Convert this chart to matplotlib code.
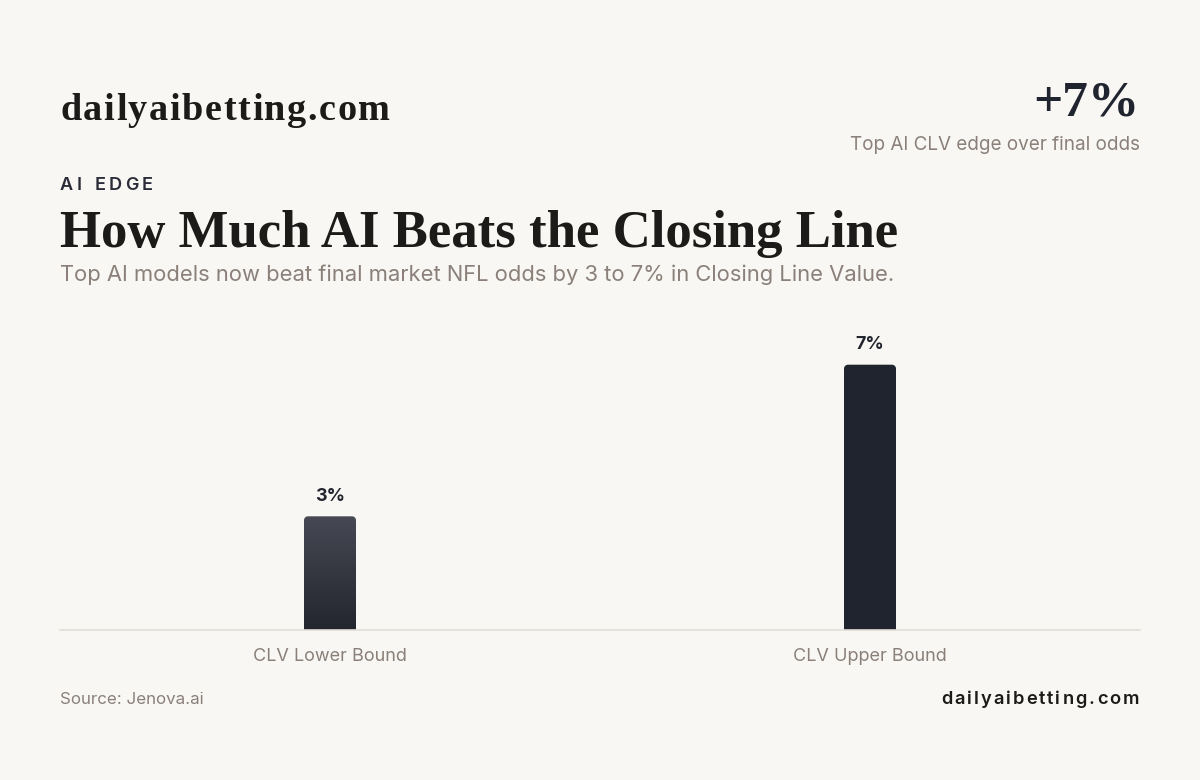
import matplotlib.pyplot as plt
import numpy as np
from matplotlib.patches import Polygon
from matplotlib.colors import LinearSegmentedColormap

# data
categories = ["CLV Lower Bound", "CLV Upper Bound"]
values = [3, 7]
value_labels = ["3%", "7%"]

BG = "#f8f7f3"
DARK = "#1c1b1a"
NAVY = "#20242f"
GRAY = "#8a8079"

fig = plt.figure(figsize=(12, 7.8), dpi=100, facecolor=BG)

# axes: x 60..1140 px, y 330..630 px
W, H = 1200, 780
PX_X = 540.0   # px per x unit
PX_Y = 37.9    # px per y unit
ax = fig.add_axes([60 / W, (H - 630) / H, 1080 / W, 300 / H])
ax.set_facecolor(BG)
for s in ["top", "right", "left"]:
    ax.spines[s].set_visible(False)
ax.spines["bottom"].set_color("#e2ded7")
ax.spines["bottom"].set_linewidth(1.2)
ax.set_yticks([])
x = np.arange(len(categories))
ax.set_xticks(x)
ax.set_xticklabels(categories, fontfamily="Inter", fontsize=13, color=GRAY)
ax.tick_params(axis="x", length=0, pad=13)


def top_rounded(x0, x1, top, r_px=4):
    rx, ry = r_px / PX_X, r_px / PX_Y
    pts = [(x0, 0), (x1, 0)]
    for a in np.linspace(0, np.pi / 2, 8):
        pts.append((x1 - rx + rx * np.cos(a), top - ry + ry * np.sin(a)))
    for a in np.linspace(np.pi / 2, np.pi, 8):
        pts.append((x0 + rx + rx * np.cos(a), top - ry + ry * np.sin(a)))
    return pts


bw = 52 / PX_X
cmap = LinearSegmentedColormap.from_list("g", ["#23262f", "#464953"])
for i, v in enumerate(values):
    poly = Polygon(top_rounded(x[i] - bw / 2, x[i] + bw / 2, v), closed=True,
                   linewidth=0, facecolor=NAVY if i == 1 else "none", zorder=2)
    ax.add_patch(poly)
    if i == 0:
        grad = np.linspace(0, 1, 100).reshape(-1, 1)
        im = ax.imshow(grad, cmap=cmap, origin="lower", aspect="auto",
                       extent=(x[i] - bw / 2, x[i] + bw / 2, 0, v), zorder=2)
        im.set_clip_path(poly)
    ax.text(x[i], v + 0.3, value_labels[i], ha="center", va="bottom",
            fontfamily="Inter", fontweight="bold", fontsize=13, color="#22252e")
ax.set_xlim(-0.5, 1.5)
ax.set_ylim(0, 300 / PX_Y)


def spaced(text, xpx, ypx, spacing, ha="left", **kw):
    # draw text char by char with extra letter spacing (pixel coords)
    r = fig.canvas.get_renderer()
    widths = []
    for ch in text:
        t = fig.text(0, 0, ch if ch != " " else "n", **kw)
        bb = t.get_window_extent(r)
        widths.append(bb.width * (0.6 if ch == " " else 1))
        t.remove()
    total = sum(widths) + spacing * (len(text) - 1)
    cx = xpx - total if ha == "right" else xpx
    for ch, w in zip(text, widths):
        if ch != " ":
            fig.text(cx / W, 1 - ypx / H, ch, ha="left", va="center", **kw)
        cx += w + spacing


serif = ["Liberation Serif", "DejaVu Serif"]

spaced("dailyaibetting.com", 60, 111, 1.6, fontfamily=serif,
       fontweight="bold", fontsize=27.5, color=DARK)
spaced("AI EDGE", 60, 186, 3.2, fontfamily="Inter", fontweight="semibold",
       fontsize=13, color="#2a2d38")
fig.text(60 / W, 1 - 234 / H, "How Much AI Beats the Closing Line", ha="left",
         va="center", fontfamily=serif, fontweight="bold", fontsize=38, color=DARK)
fig.text(60 / W, 1 - 275 / H,
         "Top AI models now beat final market NFL odds by 3 to 7% in Closing Line Value.",
         ha="left", va="center", fontfamily="Inter", fontsize=15.8, color=GRAY)

fig.text(1140 / W, 1 - 104 / H, "+7%", ha="right", va="center", fontfamily=serif,
         fontweight="bold", fontsize=37, color=NAVY)
fig.text(1140 / W, 1 - 145 / H, "Top AI CLV edge over final odds", ha="right",
         va="center", fontfamily="Inter", fontsize=13.6, color=GRAY)

fig.text(60 / W, 1 - 699 / H, "Source: Jenova.ai", ha="left", va="center",
         fontfamily="Inter", fontsize=12.2, color=GRAY)
spaced("dailyaibetting.com", 1139, 699, 2.0, ha="right", fontfamily="Inter",
       fontweight="semibold", fontsize=13.2, color=DARK)

fig.savefig("out.png", dpi=100, facecolor=BG)
